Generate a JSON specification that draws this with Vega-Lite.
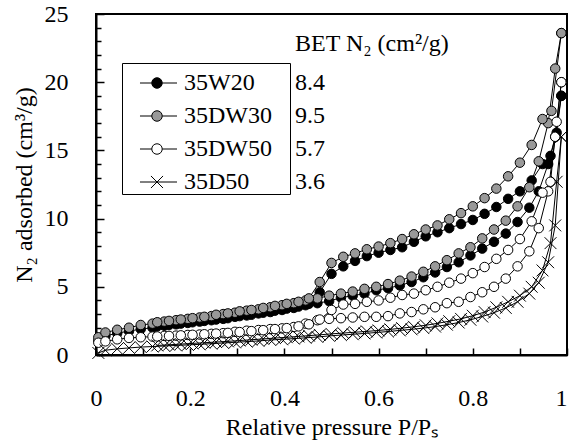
{
  "$schema": "https://vega.github.io/schema/vega-lite/v6.json",
  "width": 471,
  "height": 341,
  "autosize": {"type": "none"},
  "padding": {"left": 96, "top": 14, "right": 2, "bottom": 86},
  "background": "white",
  "config": {
    "font": "Liberation Serif, Times New Roman, serif",
    "view": {"stroke": "black", "strokeWidth": 2},
    "axis": {
      "labelFont": "Liberation Serif, Times New Roman, serif", "labelFontSize": 24, "labelColor": "black",
      "titleFont": "Liberation Serif, Times New Roman, serif", "titleFontSize": 24, "titleFontWeight": "normal", "titleColor": "black",
      "domainColor": "black", "domainWidth": 2, "tickColor": "black", "tickWidth": 1.5,
      "grid": false, "labelFlush": false, "labelOverlap": false, "labelBound": false
    },
    "legend": {
      "labelFont": "Liberation Serif, Times New Roman, serif", "labelFontSize": 24, "labelColor": "black",
      "titleFont": "Liberation Serif, Times New Roman, serif", "titleFontSize": 24, "titleFontWeight": "normal", "titleColor": "black",
      "labelLimit": 400, "titleLimit": 400
    }
  },
  "datasets": {
    "iso": [
      {"sample":"35W20","branch":"ads","P":0.005,"V":1.05},{"sample":"35W20","branch":"ads","P":0.02,"V":1.4},{"sample":"35W20","branch":"ads","P":0.045,"V":1.6},{"sample":"35W20","branch":"ads","P":0.07,"V":1.75},{"sample":"35W20","branch":"ads","P":0.095,"V":1.9},{"sample":"35W20","branch":"ads","P":0.12,"V":2.0},{"sample":"35W20","branch":"ads","P":0.145,"V":2.15},{"sample":"35W20","branch":"ads","P":0.17,"V":2.25},{"sample":"35W20","branch":"ads","P":0.195,"V":2.35},{"sample":"35W20","branch":"ads","P":0.22,"V":2.45},{"sample":"35W20","branch":"ads","P":0.245,"V":2.55},{"sample":"35W20","branch":"ads","P":0.27,"V":2.65},{"sample":"35W20","branch":"ads","P":0.295,"V":2.8},{"sample":"35W20","branch":"ads","P":0.32,"V":2.9},{"sample":"35W20","branch":"ads","P":0.345,"V":3.05},{"sample":"35W20","branch":"ads","P":0.37,"V":3.15},{"sample":"35W20","branch":"ads","P":0.395,"V":3.3},{"sample":"35W20","branch":"ads","P":0.42,"V":3.45},{"sample":"35W20","branch":"ads","P":0.445,"V":3.65},{"sample":"35W20","branch":"ads","P":0.47,"V":3.8},{"sample":"35W20","branch":"ads","P":0.495,"V":3.95},{"sample":"35W20","branch":"ads","P":0.52,"V":4.2},{"sample":"35W20","branch":"ads","P":0.545,"V":4.35},{"sample":"35W20","branch":"ads","P":0.57,"V":4.5},{"sample":"35W20","branch":"ads","P":0.595,"V":4.75},{"sample":"35W20","branch":"ads","P":0.62,"V":4.9},{"sample":"35W20","branch":"ads","P":0.645,"V":5.1},{"sample":"35W20","branch":"ads","P":0.67,"V":5.35},{"sample":"35W20","branch":"ads","P":0.695,"V":5.7},{"sample":"35W20","branch":"ads","P":0.72,"V":6.05},{"sample":"35W20","branch":"ads","P":0.745,"V":6.45},{"sample":"35W20","branch":"ads","P":0.77,"V":6.8},{"sample":"35W20","branch":"ads","P":0.795,"V":7.3},{"sample":"35W20","branch":"ads","P":0.82,"V":7.8},{"sample":"35W20","branch":"ads","P":0.845,"V":8.3},{"sample":"35W20","branch":"ads","P":0.87,"V":8.9},{"sample":"35W20","branch":"ads","P":0.895,"V":9.75},{"sample":"35W20","branch":"ads","P":0.92,"V":10.8},{"sample":"35W20","branch":"ads","P":0.94,"V":12.0},{"sample":"35W20","branch":"ads","P":0.96,"V":14.0},{"sample":"35W20","branch":"ads","P":0.975,"V":16.0},{"sample":"35W20","branch":"ads","P":0.988,"V":19.0},
      {"sample":"35W20","branch":"des","P":0.988,"V":19.0},{"sample":"35W20","branch":"des","P":0.978,"V":16.3},{"sample":"35W20","branch":"des","P":0.965,"V":14.6},{"sample":"35W20","branch":"des","P":0.948,"V":14.0},{"sample":"35W20","branch":"des","P":0.925,"V":12.8},{"sample":"35W20","branch":"des","P":0.9,"V":12.0},{"sample":"35W20","branch":"des","P":0.875,"V":11.45},{"sample":"35W20","branch":"des","P":0.85,"V":10.85},{"sample":"35W20","branch":"des","P":0.825,"V":10.35},{"sample":"35W20","branch":"des","P":0.8,"V":9.9},{"sample":"35W20","branch":"des","P":0.775,"V":9.6},{"sample":"35W20","branch":"des","P":0.75,"V":9.3},{"sample":"35W20","branch":"des","P":0.725,"V":9.0},{"sample":"35W20","branch":"des","P":0.7,"V":8.7},{"sample":"35W20","branch":"des","P":0.675,"V":8.3},{"sample":"35W20","branch":"des","P":0.65,"V":7.9},{"sample":"35W20","branch":"des","P":0.625,"V":7.7},{"sample":"35W20","branch":"des","P":0.6,"V":7.5},{"sample":"35W20","branch":"des","P":0.575,"V":7.25},{"sample":"35W20","branch":"des","P":0.55,"V":6.9},{"sample":"35W20","branch":"des","P":0.525,"V":6.5},{"sample":"35W20","branch":"des","P":0.5,"V":5.95},{"sample":"35W20","branch":"des","P":0.475,"V":4.6},{"sample":"35W20","branch":"des","P":0.452,"V":3.75},{"sample":"35W20","branch":"des","P":0.43,"V":3.55},{"sample":"35W20","branch":"des","P":0.405,"V":3.4},{"sample":"35W20","branch":"des","P":0.38,"V":3.25},{"sample":"35W20","branch":"des","P":0.355,"V":3.1},{"sample":"35W20","branch":"des","P":0.33,"V":2.95},{"sample":"35W20","branch":"des","P":0.305,"V":2.85},{"sample":"35W20","branch":"des","P":0.28,"V":2.7},{"sample":"35W20","branch":"des","P":0.255,"V":2.6},{"sample":"35W20","branch":"des","P":0.23,"V":2.5},{"sample":"35W20","branch":"des","P":0.205,"V":2.4},{"sample":"35W20","branch":"des","P":0.18,"V":2.3},{"sample":"35W20","branch":"des","P":0.155,"V":2.2},{"sample":"35W20","branch":"des","P":0.13,"V":2.1},
      {"sample":"35DW30","branch":"ads","P":0.005,"V":1.3},{"sample":"35DW30","branch":"ads","P":0.02,"V":1.65},{"sample":"35DW30","branch":"ads","P":0.045,"V":1.85},{"sample":"35DW30","branch":"ads","P":0.07,"V":2.0},{"sample":"35DW30","branch":"ads","P":0.095,"V":2.2},{"sample":"35DW30","branch":"ads","P":0.12,"V":2.3},{"sample":"35DW30","branch":"ads","P":0.145,"V":2.45},{"sample":"35DW30","branch":"ads","P":0.17,"V":2.55},{"sample":"35DW30","branch":"ads","P":0.195,"V":2.65},{"sample":"35DW30","branch":"ads","P":0.22,"V":2.75},{"sample":"35DW30","branch":"ads","P":0.245,"V":2.85},{"sample":"35DW30","branch":"ads","P":0.27,"V":3.0},{"sample":"35DW30","branch":"ads","P":0.295,"V":3.1},{"sample":"35DW30","branch":"ads","P":0.32,"V":3.25},{"sample":"35DW30","branch":"ads","P":0.345,"V":3.35},{"sample":"35DW30","branch":"ads","P":0.37,"V":3.5},{"sample":"35DW30","branch":"ads","P":0.395,"V":3.65},{"sample":"35DW30","branch":"ads","P":0.42,"V":3.8},{"sample":"35DW30","branch":"ads","P":0.445,"V":4.0},{"sample":"35DW30","branch":"ads","P":0.47,"V":4.15},{"sample":"35DW30","branch":"ads","P":0.495,"V":4.35},{"sample":"35DW30","branch":"ads","P":0.52,"V":4.5},{"sample":"35DW30","branch":"ads","P":0.545,"V":4.65},{"sample":"35DW30","branch":"ads","P":0.57,"V":4.85},{"sample":"35DW30","branch":"ads","P":0.595,"V":5.0},{"sample":"35DW30","branch":"ads","P":0.62,"V":5.2},{"sample":"35DW30","branch":"ads","P":0.645,"V":5.45},{"sample":"35DW30","branch":"ads","P":0.67,"V":5.75},{"sample":"35DW30","branch":"ads","P":0.695,"V":6.1},{"sample":"35DW30","branch":"ads","P":0.72,"V":6.5},{"sample":"35DW30","branch":"ads","P":0.745,"V":6.95},{"sample":"35DW30","branch":"ads","P":0.77,"V":7.45},{"sample":"35DW30","branch":"ads","P":0.795,"V":7.9},{"sample":"35DW30","branch":"ads","P":0.82,"V":8.55},{"sample":"35DW30","branch":"ads","P":0.845,"V":9.2},{"sample":"35DW30","branch":"ads","P":0.87,"V":9.85},{"sample":"35DW30","branch":"ads","P":0.895,"V":10.9},{"sample":"35DW30","branch":"ads","P":0.92,"V":12.3},{"sample":"35DW30","branch":"ads","P":0.94,"V":14.2},{"sample":"35DW30","branch":"ads","P":0.96,"V":17.0},{"sample":"35DW30","branch":"ads","P":0.975,"V":21.0},{"sample":"35DW30","branch":"ads","P":0.988,"V":23.6},
      {"sample":"35DW30","branch":"des","P":0.988,"V":23.6},{"sample":"35DW30","branch":"des","P":0.967,"V":17.9},{"sample":"35DW30","branch":"des","P":0.948,"V":17.3},{"sample":"35DW30","branch":"des","P":0.925,"V":15.4},{"sample":"35DW30","branch":"des","P":0.9,"V":14.1},{"sample":"35DW30","branch":"des","P":0.875,"V":13.1},{"sample":"35DW30","branch":"des","P":0.85,"V":12.2},{"sample":"35DW30","branch":"des","P":0.825,"V":11.5},{"sample":"35DW30","branch":"des","P":0.8,"V":10.9},{"sample":"35DW30","branch":"des","P":0.775,"V":10.4},{"sample":"35DW30","branch":"des","P":0.75,"V":9.95},{"sample":"35DW30","branch":"des","P":0.725,"V":9.5},{"sample":"35DW30","branch":"des","P":0.7,"V":9.2},{"sample":"35DW30","branch":"des","P":0.675,"V":8.85},{"sample":"35DW30","branch":"des","P":0.65,"V":8.5},{"sample":"35DW30","branch":"des","P":0.625,"V":8.2},{"sample":"35DW30","branch":"des","P":0.6,"V":7.95},{"sample":"35DW30","branch":"des","P":0.575,"V":7.75},{"sample":"35DW30","branch":"des","P":0.55,"V":7.45},{"sample":"35DW30","branch":"des","P":0.525,"V":7.2},{"sample":"35DW30","branch":"des","P":0.5,"V":6.75},{"sample":"35DW30","branch":"des","P":0.475,"V":5.35},{"sample":"35DW30","branch":"des","P":0.452,"V":4.15},{"sample":"35DW30","branch":"des","P":0.43,"V":3.9},{"sample":"35DW30","branch":"des","P":0.405,"V":3.75},{"sample":"35DW30","branch":"des","P":0.38,"V":3.6},{"sample":"35DW30","branch":"des","P":0.355,"V":3.45},{"sample":"35DW30","branch":"des","P":0.33,"V":3.3},{"sample":"35DW30","branch":"des","P":0.305,"V":3.2},{"sample":"35DW30","branch":"des","P":0.28,"V":3.05},{"sample":"35DW30","branch":"des","P":0.255,"V":2.95},{"sample":"35DW30","branch":"des","P":0.23,"V":2.8},{"sample":"35DW30","branch":"des","P":0.205,"V":2.7},{"sample":"35DW30","branch":"des","P":0.18,"V":2.6},{"sample":"35DW30","branch":"des","P":0.155,"V":2.5},{"sample":"35DW30","branch":"des","P":0.13,"V":2.4},
      {"sample":"35DW50","branch":"ads","P":0.005,"V":0.9},{"sample":"35DW50","branch":"ads","P":0.02,"V":1.0},{"sample":"35DW50","branch":"ads","P":0.045,"V":1.15},{"sample":"35DW50","branch":"ads","P":0.07,"V":1.25},{"sample":"35DW50","branch":"ads","P":0.095,"V":1.3},{"sample":"35DW50","branch":"ads","P":0.12,"V":1.35},{"sample":"35DW50","branch":"ads","P":0.145,"V":1.4},{"sample":"35DW50","branch":"ads","P":0.17,"V":1.42},{"sample":"35DW50","branch":"ads","P":0.195,"V":1.47},{"sample":"35DW50","branch":"ads","P":0.22,"V":1.5},{"sample":"35DW50","branch":"ads","P":0.245,"V":1.55},{"sample":"35DW50","branch":"ads","P":0.27,"V":1.6},{"sample":"35DW50","branch":"ads","P":0.295,"V":1.7},{"sample":"35DW50","branch":"ads","P":0.32,"V":1.78},{"sample":"35DW50","branch":"ads","P":0.345,"V":1.83},{"sample":"35DW50","branch":"ads","P":0.37,"V":1.9},{"sample":"35DW50","branch":"ads","P":0.395,"V":1.95},{"sample":"35DW50","branch":"ads","P":0.42,"V":2.05},{"sample":"35DW50","branch":"ads","P":0.445,"V":2.3},{"sample":"35DW50","branch":"ads","P":0.47,"V":2.55},{"sample":"35DW50","branch":"ads","P":0.495,"V":2.65},{"sample":"35DW50","branch":"ads","P":0.52,"V":2.7},{"sample":"35DW50","branch":"ads","P":0.545,"V":2.75},{"sample":"35DW50","branch":"ads","P":0.57,"V":2.8},{"sample":"35DW50","branch":"ads","P":0.595,"V":2.8},{"sample":"35DW50","branch":"ads","P":0.62,"V":2.85},{"sample":"35DW50","branch":"ads","P":0.645,"V":3.05},{"sample":"35DW50","branch":"ads","P":0.67,"V":3.15},{"sample":"35DW50","branch":"ads","P":0.695,"V":3.35},{"sample":"35DW50","branch":"ads","P":0.72,"V":3.5},{"sample":"35DW50","branch":"ads","P":0.745,"V":3.8},{"sample":"35DW50","branch":"ads","P":0.77,"V":3.9},{"sample":"35DW50","branch":"ads","P":0.795,"V":4.25},{"sample":"35DW50","branch":"ads","P":0.82,"V":4.6},{"sample":"35DW50","branch":"ads","P":0.845,"V":5.0},{"sample":"35DW50","branch":"ads","P":0.87,"V":5.6},{"sample":"35DW50","branch":"ads","P":0.895,"V":6.5},{"sample":"35DW50","branch":"ads","P":0.92,"V":7.6},{"sample":"35DW50","branch":"ads","P":0.94,"V":9.3},{"sample":"35DW50","branch":"ads","P":0.96,"V":12.0},{"sample":"35DW50","branch":"ads","P":0.975,"V":16.0},{"sample":"35DW50","branch":"ads","P":0.988,"V":20.0},
      {"sample":"35DW50","branch":"des","P":0.988,"V":20.0},{"sample":"35DW50","branch":"des","P":0.978,"V":17.1},{"sample":"35DW50","branch":"des","P":0.965,"V":12.7},{"sample":"35DW50","branch":"des","P":0.948,"V":11.9},{"sample":"35DW50","branch":"des","P":0.925,"V":9.8},{"sample":"35DW50","branch":"des","P":0.9,"V":8.5},{"sample":"35DW50","branch":"des","P":0.875,"V":7.7},{"sample":"35DW50","branch":"des","P":0.85,"V":7.05},{"sample":"35DW50","branch":"des","P":0.825,"V":6.45},{"sample":"35DW50","branch":"des","P":0.8,"V":6.0},{"sample":"35DW50","branch":"des","P":0.775,"V":5.6},{"sample":"35DW50","branch":"des","P":0.75,"V":5.3},{"sample":"35DW50","branch":"des","P":0.725,"V":5.0},{"sample":"35DW50","branch":"des","P":0.7,"V":4.75},{"sample":"35DW50","branch":"des","P":0.675,"V":4.5},{"sample":"35DW50","branch":"des","P":0.65,"V":4.4},{"sample":"35DW50","branch":"des","P":0.625,"V":4.2},{"sample":"35DW50","branch":"des","P":0.6,"V":4.0},{"sample":"35DW50","branch":"des","P":0.575,"V":3.9},{"sample":"35DW50","branch":"des","P":0.55,"V":3.75},{"sample":"35DW50","branch":"des","P":0.525,"V":3.7},{"sample":"35DW50","branch":"des","P":0.5,"V":3.3},{"sample":"35DW50","branch":"des","P":0.475,"V":2.6},{"sample":"35DW50","branch":"des","P":0.452,"V":2.25},{"sample":"35DW50","branch":"des","P":0.43,"V":2.1},{"sample":"35DW50","branch":"des","P":0.405,"V":1.97},{"sample":"35DW50","branch":"des","P":0.38,"V":1.9},{"sample":"35DW50","branch":"des","P":0.355,"V":1.82},{"sample":"35DW50","branch":"des","P":0.33,"V":1.75},{"sample":"35DW50","branch":"des","P":0.305,"V":1.68},{"sample":"35DW50","branch":"des","P":0.28,"V":1.62},{"sample":"35DW50","branch":"des","P":0.255,"V":1.57},{"sample":"35DW50","branch":"des","P":0.23,"V":1.52},{"sample":"35DW50","branch":"des","P":0.205,"V":1.48},{"sample":"35DW50","branch":"des","P":0.18,"V":1.44},{"sample":"35DW50","branch":"des","P":0.155,"V":1.4},{"sample":"35DW50","branch":"des","P":0.13,"V":1.36},
      {"sample":"35D50","branch":"ads","P":0.005,"V":0.15},{"sample":"35D50","branch":"ads","P":0.02,"V":0.35},{"sample":"35D50","branch":"ads","P":0.045,"V":0.45},{"sample":"35D50","branch":"ads","P":0.07,"V":0.52},{"sample":"35D50","branch":"ads","P":0.095,"V":0.58},{"sample":"35D50","branch":"ads","P":0.12,"V":0.62},{"sample":"35D50","branch":"ads","P":0.145,"V":0.66},{"sample":"35D50","branch":"ads","P":0.17,"V":0.7},{"sample":"35D50","branch":"ads","P":0.195,"V":0.74},{"sample":"35D50","branch":"ads","P":0.22,"V":0.78},{"sample":"35D50","branch":"ads","P":0.245,"V":0.83},{"sample":"35D50","branch":"ads","P":0.27,"V":0.88},{"sample":"35D50","branch":"ads","P":0.295,"V":0.93},{"sample":"35D50","branch":"ads","P":0.32,"V":0.98},{"sample":"35D50","branch":"ads","P":0.345,"V":1.03},{"sample":"35D50","branch":"ads","P":0.37,"V":1.1},{"sample":"35D50","branch":"ads","P":0.395,"V":1.15},{"sample":"35D50","branch":"ads","P":0.42,"V":1.2},{"sample":"35D50","branch":"ads","P":0.445,"V":1.26},{"sample":"35D50","branch":"ads","P":0.47,"V":1.32},{"sample":"35D50","branch":"ads","P":0.495,"V":1.4},{"sample":"35D50","branch":"ads","P":0.52,"V":1.46},{"sample":"35D50","branch":"ads","P":0.545,"V":1.52},{"sample":"35D50","branch":"ads","P":0.57,"V":1.58},{"sample":"35D50","branch":"ads","P":0.595,"V":1.65},{"sample":"35D50","branch":"ads","P":0.62,"V":1.72},{"sample":"35D50","branch":"ads","P":0.645,"V":1.8},{"sample":"35D50","branch":"ads","P":0.67,"V":1.88},{"sample":"35D50","branch":"ads","P":0.695,"V":1.97},{"sample":"35D50","branch":"ads","P":0.72,"V":2.08},{"sample":"35D50","branch":"ads","P":0.745,"V":2.22},{"sample":"35D50","branch":"ads","P":0.77,"V":2.38},{"sample":"35D50","branch":"ads","P":0.795,"V":2.58},{"sample":"35D50","branch":"ads","P":0.82,"V":2.82},{"sample":"35D50","branch":"ads","P":0.845,"V":3.1},{"sample":"35D50","branch":"ads","P":0.87,"V":3.45},{"sample":"35D50","branch":"ads","P":0.895,"V":3.9},{"sample":"35D50","branch":"ads","P":0.92,"V":4.5},{"sample":"35D50","branch":"ads","P":0.94,"V":5.3},{"sample":"35D50","branch":"ads","P":0.96,"V":6.8},{"sample":"35D50","branch":"ads","P":0.975,"V":9.5},{"sample":"35D50","branch":"ads","P":0.988,"V":16.0},
      {"sample":"35D50","branch":"des","P":0.988,"V":16.0},{"sample":"35D50","branch":"des","P":0.978,"V":12.7},{"sample":"35D50","branch":"des","P":0.965,"V":8.2},{"sample":"35D50","branch":"des","P":0.948,"V":6.2},{"sample":"35D50","branch":"des","P":0.925,"V":5.0},{"sample":"35D50","branch":"des","P":0.9,"V":4.35},{"sample":"35D50","branch":"des","P":0.875,"V":3.9},{"sample":"35D50","branch":"des","P":0.85,"V":3.5},{"sample":"35D50","branch":"des","P":0.825,"V":3.15},{"sample":"35D50","branch":"des","P":0.8,"V":2.88},{"sample":"35D50","branch":"des","P":0.775,"V":2.65},{"sample":"35D50","branch":"des","P":0.75,"V":2.48},{"sample":"35D50","branch":"des","P":0.725,"V":2.32},{"sample":"35D50","branch":"des","P":0.7,"V":2.18},{"sample":"35D50","branch":"des","P":0.675,"V":2.07},{"sample":"35D50","branch":"des","P":0.65,"V":1.97},{"sample":"35D50","branch":"des","P":0.625,"V":1.88},{"sample":"35D50","branch":"des","P":0.6,"V":1.8},{"sample":"35D50","branch":"des","P":0.575,"V":1.73},{"sample":"35D50","branch":"des","P":0.55,"V":1.67},{"sample":"35D50","branch":"des","P":0.525,"V":1.61},{"sample":"35D50","branch":"des","P":0.5,"V":1.55},{"sample":"35D50","branch":"des","P":0.475,"V":1.48},{"sample":"35D50","branch":"des","P":0.452,"V":1.42},{"sample":"35D50","branch":"des","P":0.43,"V":1.36},{"sample":"35D50","branch":"des","P":0.405,"V":1.3},{"sample":"35D50","branch":"des","P":0.38,"V":1.24},{"sample":"35D50","branch":"des","P":0.355,"V":1.18},{"sample":"35D50","branch":"des","P":0.33,"V":1.12},{"sample":"35D50","branch":"des","P":0.305,"V":1.06},{"sample":"35D50","branch":"des","P":0.28,"V":1.0},{"sample":"35D50","branch":"des","P":0.255,"V":0.95},{"sample":"35D50","branch":"des","P":0.23,"V":0.9},{"sample":"35D50","branch":"des","P":0.205,"V":0.85},{"sample":"35D50","branch":"des","P":0.18,"V":0.8},{"sample":"35D50","branch":"des","P":0.155,"V":0.75},{"sample":"35D50","branch":"des","P":0.13,"V":0.7}
    ],
    "bet": [
      {"sample": "35W20", "bet": 8.4},
      {"sample": "35DW30", "bet": 9.5},
      {"sample": "35DW50", "bet": 5.7},
      {"sample": "35D50", "bet": 3.6}
    ]
  },
  "layer": [
    {
      "data": {"name": "iso"},
      "encoding": {
        "x": {
          "field": "P", "type": "quantitative",
          "scale": {"domain": [0, 1], "nice": false, "zero": false},
          "axis": {
            "title": "Relative pressure P/Pₛ",
            "values": [0, 0.1, 0.2, 0.3, 0.4, 0.5, 0.6, 0.7, 0.8, 0.9, 1],
            "format": "~g",
            "labelExpr": "(round(datum.value * 10) % 2 === 0) ? datum.label : ''",
            "labelAlign": {"condition": {"test": "datum.value === 1", "value": "right"}, "value": "center"},
            "tickSize": -7,
            "labelPadding": 38,
            "titlePadding": 5
          }
        },
        "y": {
          "field": "V", "type": "quantitative",
          "scale": {"domain": [0, 25], "nice": false, "zero": false},
          "axis": {
            "title": "N₂ adsorbed (cm³/g)",
            "values": [0,1,2,3,4,5,6,7,8,9,10,11,12,13,14,15,16,17,18,19,20,21,22,23,24,25],
            "labelExpr": "(datum.value % 5 === 0) ? datum.label : ''",
            "tickSize": {"condition": {"test": "datum.value % 5 === 0", "value": -8}, "value": -5},
            "labelPadding": 36,
            "titlePadding": 8
          }
        }
      },
      "layer": [
        {
          "mark": {"type": "line", "color": "black", "strokeWidth": 1},
          "encoding": {
            "detail": [{"field": "sample", "type": "nominal"}, {"field": "branch", "type": "nominal"}]
          }
        },
        {
          "mark": {"type": "point", "filled": true, "stroke": "black", "strokeWidth": 1, "size": 90, "opacity": 1},
          "encoding": {
            "fill": {
              "field": "sample", "type": "nominal",
              "scale": {"domain": ["35W20", "35DW30", "35DW50", "35D50"], "range": ["black", "#999999", "white", "white"]},
              "legend": {
                "orient": "none", "legendX": 26, "legendY": 49,
                "title": null, "strokeColor": "black", "padding": 0,
                "symbolSize": 1521, "symbolStrokeWidth": 1, "symbolStrokeColor": "black",
                "symbolOffset": 15, "labelOffset": 7, "rowPadding": 1,
                "symbolType": {"expr": "datum.value === '35D50' ? 'M-0.872,0L1.026,0M-0.31,-0.31L0.31,0.31M-0.31,0.31L0.31,-0.31M6.67,0' : 'M-0.872,0L-0.269,0M0.269,0L1.026,0M-0.269,0A0.269,0.269 0 1,0 0.269,0A0.269,0.269 0 1,0 -0.269,0ZM6.67,0'"}
              }
            },
            "shape": {
              "condition": {"test": "datum.sample === '35D50'", "value": "M-1.25,-1.25L1.25,1.25M-1.25,1.25L1.25,-1.25"},
              "value": "circle"
            }
          }
        }
      ]
    },
    {
      "data": {"name": "bet"},
      "mark": {"type": "point", "opacity": 0},
      "encoding": {
        "stroke": {
          "field": "bet", "type": "nominal",
          "scale": {"domain": [8.4, 9.5, 5.7, 3.6], "range": ["white", "white", "white", "white"]},
          "legend": {
            "orient": "none", "legendX": 199, "legendY": 18,
            "title": "BET N₂ (cm²/g)", "padding": 0,
            "symbolSize": 0, "symbolOpacity": 0, "symbolStrokeWidth": 0,
            "labelOffset": -24, "rowPadding": 9, "titlePadding": 15
          }
        }
      }
    }
  ]
}
